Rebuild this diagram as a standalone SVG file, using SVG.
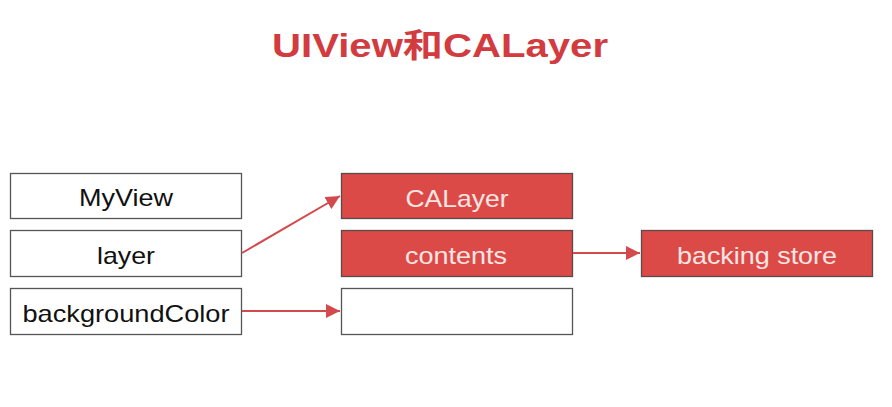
<svg xmlns="http://www.w3.org/2000/svg" width="892" height="407" viewBox="0 0 892 407">
<style>
.t{font-family:"Liberation Sans",Arial,"Noto Sans CJK SC",sans-serif;font-size:24px;text-anchor:middle}
.w rect{fill:#ffffff;stroke:#555555;stroke-width:1.3}
.r rect{fill:#dc4a48;stroke:#5a4a4a;stroke-width:1.3}
.w text{fill:#111111}
.r text{fill:#fbe6e4}
.c{stroke:#d44a4c;stroke-width:2;fill:none}
</style>
<defs>
<marker id="ah" viewBox="0 0 10 10" refX="10" refY="5" markerWidth="7" markerHeight="7" orient="auto" markerUnits="strokeWidth">
<path d="M0,0 L10,5 L0,10 z" fill="#d44a4c"/>
</marker>
</defs>
<rect width="892" height="407" fill="#ffffff"/>
<text id="title" x="440" y="57" font-family="'Liberation Sans',Arial,'Noto Sans CJK SC',sans-serif" font-size="33" font-weight="bold" fill="#d23b3f" text-anchor="middle" textLength="336" lengthAdjust="spacingAndGlyphs">UIView和CALayer</text>
<g id="myview" class="w"><rect x="10.5" y="173.5" width="231" height="45"/><text class="t" x="126" y="206" textLength="94" lengthAdjust="spacingAndGlyphs">MyView</text></g>
<g id="layer" class="w"><rect x="10.5" y="230.5" width="231" height="46"/><text class="t" x="126" y="264" textLength="58" lengthAdjust="spacingAndGlyphs">layer</text></g>
<g id="bgcolor" class="w"><rect x="10.5" y="288.5" width="231" height="46"/><text class="t" x="126" y="322" textLength="207" lengthAdjust="spacingAndGlyphs">backgroundColor</text></g>
<g id="calayer" class="r"><rect x="341.5" y="173.5" width="231" height="45"/><text class="t" x="457" y="207" textLength="103" lengthAdjust="spacingAndGlyphs">CALayer</text></g>
<g id="contents" class="r"><rect x="341.5" y="230.5" width="231" height="46"/><text class="t" x="456" y="264" textLength="102" lengthAdjust="spacingAndGlyphs">contents</text></g>
<g id="empty" class="w"><rect x="341.5" y="288.5" width="231" height="46"/></g>
<g id="backing" class="r"><rect x="641.5" y="230.5" width="231" height="46"/><text class="t" x="757" y="264" textLength="160" lengthAdjust="spacingAndGlyphs">backing store</text></g>
<g id="connectors">
<line class="c" x1="242" y1="253" x2="340" y2="196" marker-end="url(#ah)"/>
<line class="c" x1="242" y1="311" x2="340" y2="311" marker-end="url(#ah)"/>
<line class="c" x1="573" y1="253" x2="640" y2="253" marker-end="url(#ah)"/>
</g>
</svg>
